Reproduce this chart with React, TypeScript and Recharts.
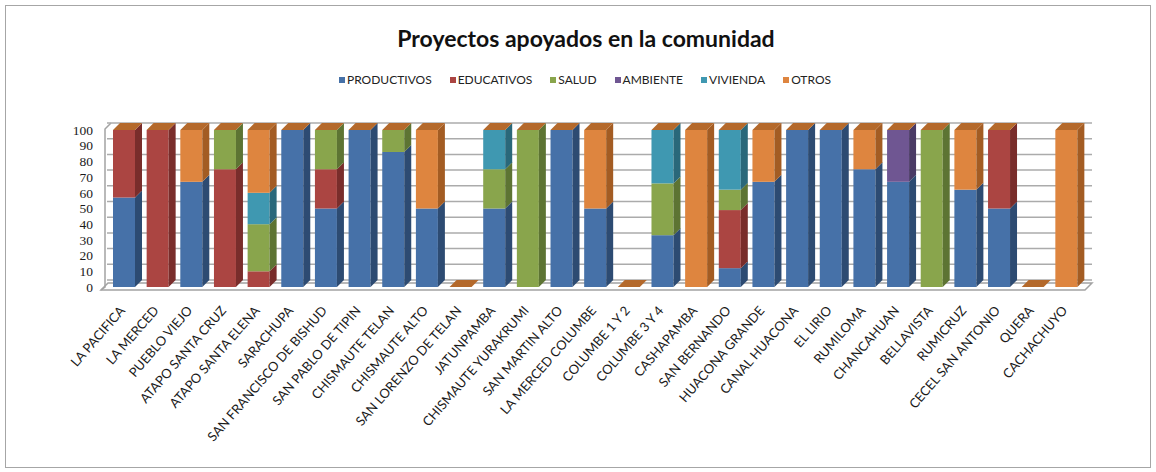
import React from 'react';
import { BarChart, Bar, XAxis, YAxis, CartesianGrid, Legend } from 'recharts';

const CATEGORIES = [
  'LA PACIFICA', 'LA MERCED', 'PUEBLO VIEJO', 'ATAPO SANTA CRUZ', 'ATAPO SANTA ELENA',
  'SARACHUPA', 'SAN FRANCISCO DE BISHUD', 'SAN PABLO DE TIPIN', 'CHISMAUTE TELAN',
  'CHISMAUTE ALTO', 'SAN LORENZO DE TELAN', 'JATUNPAMBA', 'CHISMAUTE YURAKRUMI',
  'SAN MARTIN ALTO', 'LA MERCED COLUMBE', 'COLUMBE 1 Y 2', 'COLUMBE 3 Y 4', 'CASHAPAMBA',
  'SAN BERNANDO', 'HUACONA GRANDE', 'CANAL HUACONA', 'EL LIRIO', 'RUMILOMA', 'CHANCAHUAN',
  'BELLAVISTA', 'RUMICRUZ', 'CECEL SAN ANTONIO', 'QUERA', 'CACHACHUYO',
];

const PRODUCTIVOS = [57, 0, 67, 0, 0, 100, 50, 100, 86, 50, 0, 50, 0, 100, 50, 0, 33, 0, 12, 67, 100, 100, 75, 67, 0, 62, 50, 0, 0];
const EDUCATIVOS = [43, 100, 0, 75, 10, 0, 25, 0, 0, 0, 0, 0, 0, 0, 0, 0, 0, 0, 37, 0, 0, 0, 0, 0, 0, 0, 50, 0, 0];
const SALUD = [0, 0, 0, 25, 30, 0, 25, 0, 14, 0, 0, 25, 100, 0, 0, 0, 33, 0, 13, 0, 0, 0, 0, 0, 100, 0, 0, 0, 0];
const AMBIENTE = [0, 0, 0, 0, 0, 0, 0, 0, 0, 0, 0, 0, 0, 0, 0, 0, 0, 0, 0, 0, 0, 0, 0, 33, 0, 0, 0, 0, 0];
const VIVIENDA = [0, 0, 0, 0, 20, 0, 0, 0, 0, 0, 0, 25, 0, 0, 0, 0, 34, 0, 38, 0, 0, 0, 0, 0, 0, 0, 0, 0, 0];
const OTROS = [0, 0, 33, 0, 40, 0, 0, 0, 0, 50, 0, 0, 0, 0, 50, 0, 0, 100, 0, 33, 0, 0, 25, 0, 0, 38, 0, 0, 100];

const Y_TICKS = [0, 10, 20, 30, 40, 50, 60, 70, 80, 90, 100];

const SERIES = [
  { key: 'productivos', name: 'PRODUCTIVOS', values: PRODUCTIVOS, color: '#4671A8', side: '#2D4B72' },
  { key: 'educativos', name: 'EDUCATIVOS', values: EDUCATIVOS, color: '#AB4542', side: '#792D2B' },
  { key: 'salud', name: 'SALUD', values: SALUD, color: '#89A54C', side: '#5D7433' },
  { key: 'ambiente', name: 'AMBIENTE', values: AMBIENTE, color: '#6F5692', side: '#4A3A65' },
  { key: 'vivienda', name: 'VIVIENDA', values: VIVIENDA, color: '#3F98B1', side: '#2A687A' },
  { key: 'otros', name: 'OTROS', values: OTROS, color: '#DE853F', side: '#A35C23' },
];

const data = CATEGORIES.map((name, i) => {
  const row: Record<string, string | number> = { name };
  SERIES.forEach((s) => { row[s.key] = s.values[i]; });
  return row;
});

const DEPTH = 7;
const TOP_FACE = '#B4692B';
const FONT = 'Lato, "Open Sans", sans-serif';

function make3D(color: string, side: string, withTop: boolean) {
  return (props: any) => {
    const { x, y, width, height } = props;
    if (x == null || y == null) return null;
    const h = Math.max(0, height || 0);
    const w = width;
    return (
      <g>
        {h > 0 && <rect x={x} y={y} width={w} height={h} fill={color} />}
        {h > 0 && (
          <polygon
            points={`${x + w},${y} ${x + w + DEPTH},${y - DEPTH} ${x + w + DEPTH},${y + h - DEPTH} ${x + w},${y + h}`}
            fill={side}
          />
        )}
        {withTop && (
          <polygon
            points={`${x},${y} ${x + DEPTH},${y - DEPTH} ${x + w + DEPTH},${y - DEPTH} ${x + w},${y}`}
            fill={TOP_FACE}
          />
        )}
      </g>
    );
  };
}

const XTick = ({ x, y, payload }: any) => (
  <g transform={`translate(${x + 2},${y + 16})`}>
    <text
      textAnchor="end"
      transform="rotate(-49)"
      fontFamily={FONT}
      fontSize={13}
      fill="#1a1a1a"
    >
      {payload.value}
    </text>
  </g>
);

const LegendContent = ({ payload }: any) => {
  const order = SERIES.map((s) => s.name);
  const items = [...(payload || [])].sort((a: any, b: any) => order.indexOf(a.value) - order.indexOf(b.value));
  return (
    <div style={{ display: 'flex', justifyContent: 'center', gap: 18, paddingLeft: 14, fontFamily: FONT, fontSize: 12, color: '#222' }}>
      {items.map((p: any) => (
        <div key={p.value} style={{ display: 'flex', alignItems: 'center' }}>
          <span style={{ width: 6, height: 6, background: p.color, marginRight: 2, display: 'inline-block' }} />
          <span>{p.value}</span>
        </div>
      ))}
    </div>
  );
};

export default function App() {
  return (
    <div style={{ position: 'relative', width: 1156, height: 472, background: '#fff' }}>
      <style>{'body{margin:0}'}</style>
      <svg width={1156} height={472} style={{ position: 'absolute', left: 0, top: 0 }}>
        <rect x={5.5} y={5.5} width={1145} height={462} fill="#fff" stroke="#A6A6A6" />
        <text x={586} y={47} textAnchor="middle" fontFamily={FONT} fontWeight="bold" fontSize={23} fill="#111">
          Proyectos apoyados en la comunidad
        </text>
        <polygon points="101,290 1085,290 1092,283 108,283" fill="#fff" stroke="#A3A3A3" strokeWidth={1.5} />
        <polyline points="101,290 105,287 105,129 111,123" fill="none" stroke="#A3A3A3" strokeWidth={1.5} />
      </svg>
      <div style={{ position: 'absolute', left: 0, top: 0 }}>
        <BarChart
          width={1156}
          height={472}
          data={data}
          margin={{ top: 130, right: 64, left: 67, bottom: 65 }}
          barSize={22}
        >
          <CartesianGrid
            vertical={false}
            stroke="#ABABAB"
            strokeWidth={1.5}
            horizontalCoordinatesGenerator={({ offset }: any) =>
              Y_TICKS.map((t) => offset.top + offset.height * (1 - t / 100) - DEPTH)
            }
          />
          <XAxis
            dataKey="name"
            interval={0}
            height={120}
            tick={<XTick />}
            tickLine={false}
            axisLine={false}
            padding={{ left: 0, right: 9 }}
          />
          <YAxis
            domain={[0, 100]}
            ticks={Y_TICKS}
            interval={0}
            width={40}
            tickLine={false}
            axisLine={false}
            tickSize={0}
            tickMargin={14}
            tick={{ fontFamily: '"Liberation Serif", serif', fontSize: 13.5, fill: '#1a1a1a' }}
          />
          <Legend
            verticalAlign="middle"
            align="center"
            wrapperStyle={{ top: 72, left: 0, width: 1156 }}
            content={<LegendContent />}
          />
          {SERIES.map((s, i) => (
            <Bar
              key={s.key}
              dataKey={s.key}
              name={s.name}
              stackId="a"
              fill={s.color}
              isAnimationActive={false}
              shape={make3D(s.color, s.side, i === SERIES.length - 1)}
            />
          ))}
        </BarChart>
      </div>
    </div>
  );
}
